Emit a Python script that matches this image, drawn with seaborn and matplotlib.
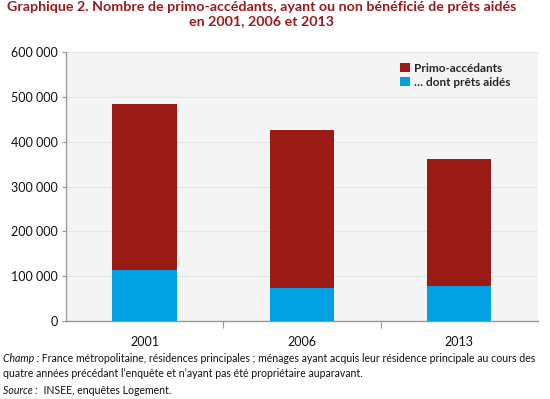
import matplotlib
matplotlib.use("Agg")
import matplotlib.pyplot as plt
import seaborn as sns
import pandas as pd
from matplotlib.patches import Patch
from matplotlib.ticker import FuncFormatter, FixedLocator

years = ["2001", "2006", "2013"]
primo = [484000, 427000, 362000]
aides = [114000, 74000, 78000]

sns.set_theme(style="white")
plt.rcParams['font.family'] = ['Lato', 'DejaVu Sans']

RED = "#9a1a15"
BLUE = "#00a0e2"

df = pd.DataFrame({"annee": years, "primo": primo, "aides": aides})

fig = plt.figure(figsize=(5.5, 3.99), dpi=100)
ax = fig.add_axes([0.12, 0.1955, 0.858, 0.674])
ax.set_facecolor("#f4f4f4")

sns.barplot(data=df, x="annee", y="primo", color=RED, width=0.41,
            saturation=1, ax=ax, zorder=3, linewidth=0)
sns.barplot(data=df, x="annee", y="aides", color=BLUE, width=0.41,
            saturation=1, ax=ax, zorder=4, linewidth=0)

ax.set_xlim(-0.5, 2.5)
ax.set_ylim(0, 600000)
ax.set_yticks(range(0, 600001, 100000))
ax.yaxis.set_major_formatter(FuncFormatter(lambda v, p: f"{int(v):,}".replace(",", " ")))
ax.grid(axis="y", color="#e4e4e4", linewidth=0.8, zorder=0)
ax.set_axisbelow(True)
ax.set_xlabel("")
ax.set_ylabel("")

for s in ["top", "right"]:
    ax.spines[s].set_visible(False)
for s in ["left", "bottom"]:
    ax.spines[s].set_color("#999999")
    ax.spines[s].set_linewidth(1.0)

ax.tick_params(axis="y", length=3, width=0.8, color="#999999", labelsize=9,
               labelcolor="#111111", pad=3, left=True)
ax.tick_params(axis="x", which="major", length=0, labelsize=9,
               labelcolor="#111111", pad=11)
ax.xaxis.set_minor_locator(FixedLocator([0.5, 1.5]))
ax.tick_params(axis="x", which="minor", length=5, width=0.8, color="#999999", bottom=True)

handles = [Patch(facecolor=RED, edgecolor="none"), Patch(facecolor=BLUE, edgecolor="none")]
leg = ax.legend(handles, ["Primo-accédants", "… dont prêts aidés"], loc="upper right",
                bbox_to_anchor=(0.965, 1.0), frameon=False, handlelength=0.8,
                handleheight=0.8, handletextpad=0.4, labelspacing=0.25,
                prop={"weight": "bold", "size": 8.5})

fig.text(0.476, 0.997, "Graphique 2. Nombre de primo-accédants, ayant ou non bénéficié de prêts aidés\nen 2001, 2006 et 2013",
         ha="center", va="top", color="#9b1b1b", fontsize=10.3, fontweight="bold",
         linespacing=1.15)

fig.canvas.draw()
renderer = fig.canvas.get_renderer()

def mixed(x, y, parts, size=7.6):
    xp = x
    for txt, style in parts:
        t = fig.text(xp, y, txt, fontsize=size, style=style, color="#111111",
                     ha="left", va="baseline")
        bb = t.get_window_extent(renderer=renderer)
        xp = xp + bb.width / fig.bbox.width
    return xp

mixed(0.005, 1 - 362 / 399, [("Champ :", "italic"),
      (" France métropolitaine, résidences principales ; ménages ayant acquis leur résidence principale au cours des", "normal")])
mixed(0.005, 1 - 377 / 399, [("quatre années précédant l’enquête et n’ayant pas été propriétaire auparavant.", "normal")])
mixed(0.005, 1 - 394 / 399, [("Source :", "italic"), ("  INSEE, enquêtes Logement.", "normal")])

fig.savefig("out.png", dpi=100)
